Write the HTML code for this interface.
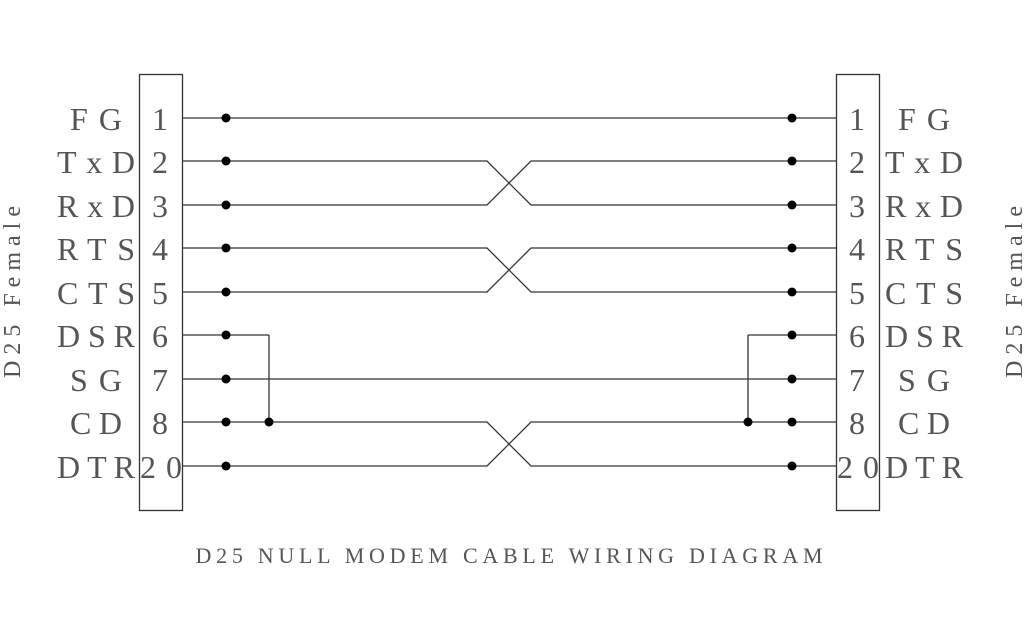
<!DOCTYPE html>
<html><head><meta charset="utf-8"><style>
html,body{margin:0;padding:0;background:#fff;width:1024px;height:640px;overflow:hidden}
svg{display:block}
text{font-family:"Liberation Serif",serif;fill:#555}
</style></head><body>
<svg width="1024" height="640" viewBox="0 0 1024 640" xmlns="http://www.w3.org/2000/svg">
<g stroke="#333" stroke-width="1.3" fill="none">
<rect x="139.5" y="74.5" width="43" height="436"/>
<rect x="836.5" y="74.5" width="43" height="436"/>
<line x1="182" y1="118" x2="836" y2="118"/>
<line x1="182" y1="379" x2="836" y2="379"/>
<line x1="182" y1="335" x2="269" y2="335"/>
<line x1="269" y1="335" x2="269" y2="422"/>
<line x1="748" y1="335" x2="836" y2="335"/>
<line x1="748" y1="335" x2="748" y2="422"/>
<polyline points="182,161 487,161 531,205 836,205"/>
<polyline points="182,205 487,205 531,161 836,161"/>
<polyline points="182,248 487,248 531,292 836,292"/>
<polyline points="182,292 487,292 531,248 836,248"/>
<polyline points="182,422 487,422 531,466 836,466"/>
<polyline points="182,466 487,466 531,422 836,422"/>
</g>
<g fill="#000">
<circle cx="226" cy="118" r="4.5"/><circle cx="226" cy="161" r="4.5"/><circle cx="226" cy="205" r="4.5"/>
<circle cx="226" cy="248" r="4.5"/><circle cx="226" cy="292" r="4.5"/><circle cx="226" cy="335" r="4.5"/>
<circle cx="226" cy="379" r="4.5"/><circle cx="226" cy="422" r="4.5"/><circle cx="226" cy="466" r="4.5"/>
<circle cx="269" cy="422" r="4.5"/>
<circle cx="792" cy="118" r="4.5"/><circle cx="792" cy="161" r="4.5"/><circle cx="792" cy="205" r="4.5"/>
<circle cx="792" cy="248" r="4.5"/><circle cx="792" cy="292" r="4.5"/><circle cx="792" cy="335" r="4.5"/>
<circle cx="792" cy="379" r="4.5"/><circle cx="792" cy="422" r="4.5"/><circle cx="792" cy="466" r="4.5"/>
<circle cx="748" cy="422" r="4.5"/>
</g>
<g font-size="32" text-anchor="middle">
<text x="96" y="130" textLength="52" lengthAdjust="spacing">FG</text>
<text x="96" y="173" textLength="78" lengthAdjust="spacing">TxD</text>
<text x="96" y="217" textLength="78" lengthAdjust="spacing">RxD</text>
<text x="96" y="260" textLength="78" lengthAdjust="spacing">RTS</text>
<text x="96" y="304" textLength="78" lengthAdjust="spacing">CTS</text>
<text x="96" y="347" textLength="78" lengthAdjust="spacing">DSR</text>
<text x="96" y="391" textLength="52" lengthAdjust="spacing">SG</text>
<text x="96" y="434" textLength="52" lengthAdjust="spacing">CD</text>
<text x="96" y="478" textLength="78" lengthAdjust="spacing">DTR</text>
<text x="160" y="130">1</text><text x="160" y="173">2</text><text x="160" y="217">3</text>
<text x="160" y="260">4</text><text x="160" y="304">5</text><text x="160" y="347">6</text>
<text x="160" y="391">7</text><text x="160" y="434">8</text>
<text x="161" y="478" textLength="42" lengthAdjust="spacing">20</text>
<text x="857" y="130">1</text><text x="857" y="173">2</text><text x="857" y="217">3</text>
<text x="857" y="260">4</text><text x="857" y="304">5</text><text x="857" y="347">6</text>
<text x="857" y="391">7</text><text x="857" y="434">8</text>
<text x="858" y="478" textLength="42" lengthAdjust="spacing">20</text>
<text x="924" y="130" textLength="52" lengthAdjust="spacing">FG</text>
<text x="924" y="173" textLength="78" lengthAdjust="spacing">TxD</text>
<text x="924" y="217" textLength="78" lengthAdjust="spacing">RxD</text>
<text x="924" y="260" textLength="78" lengthAdjust="spacing">RTS</text>
<text x="924" y="304" textLength="78" lengthAdjust="spacing">CTS</text>
<text x="924" y="347" textLength="78" lengthAdjust="spacing">DSR</text>
<text x="924" y="391" textLength="52" lengthAdjust="spacing">SG</text>
<text x="924" y="434" textLength="52" lengthAdjust="spacing">CD</text>
<text x="924" y="478" textLength="78" lengthAdjust="spacing">DTR</text>
</g>
<g font-size="24" text-anchor="middle">
<text transform="translate(20,292) rotate(-90)" textLength="172" lengthAdjust="spacing">D25 Female</text>
<text transform="translate(1022,292) rotate(-90)" textLength="172" lengthAdjust="spacing">D25 Female</text>
</g>
<text x="509" y="563" font-size="22" text-anchor="middle" textLength="627" lengthAdjust="spacing">D25 NULL MODEM CABLE WIRING DIAGRAM</text>
</svg>
</body></html>
